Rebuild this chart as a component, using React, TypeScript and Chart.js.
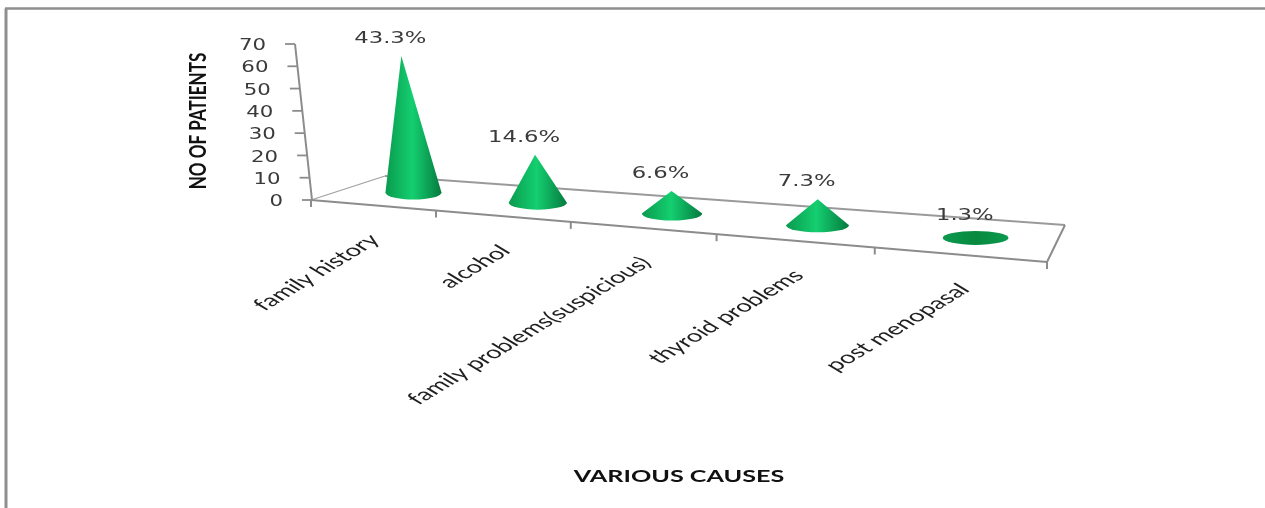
import { useEffect, useRef } from "react";
import { Chart, registerables } from "chart.js";

Chart.register(...registerables);

const causes = ["family history", "alcohol", "family problems(suspicious)", "thyroid problems", "post menopasal"];
const percentages = [43.3, 14.6, 6.6, 7.3, 1.3];
const totalPatients = 150;
const patients = percentages.map((p) => (p * totalPatients) / 100);
const yTitle = "NO OF PATIENTS";
const xTitle = "VARIOUS CAUSES";

// Corners of the receding floor, and the foreshortening of the category axis.
const FLOOR = { fl: [311, 200], fr: [1047, 262], br: [1065, 225], bl: [385, 176] };
const PERSPECTIVE = -0.1817;
const DEPTH = 0.55;

const foreshorten = (t: number) => (0.8183 * t) / (1 + PERSPECTIVE * t);

function floorPoint(t: number, v: number): [number, number] {
  const p = foreshorten(t);
  const { fl, fr, br, bl } = FLOOR;
  const fx = fl[0] + (fr[0] - fl[0]) * p;
  const fy = fl[1] + (fr[1] - fl[1]) * p;
  const bx = bl[0] + (br[0] - bl[0]) * p;
  const by = bl[1] + (br[1] - bl[1]) * p;
  return [fx + (bx - fx) * v, fy + (by - fy) * v];
}

function stretchedText(
  ctx: CanvasRenderingContext2D,
  text: string,
  x: number,
  y: number,
  sx: number,
  sy: number,
  angle: number,
  align: CanvasTextAlign,
  font: string,
  color: string,
  rotateFirst = false,
) {
  ctx.save();
  ctx.translate(x, y);
  if (rotateFirst) {
    ctx.rotate(angle);
    ctx.scale(sx, sy);
  } else {
    ctx.scale(sx, sy);
    ctx.rotate(angle);
  }
  ctx.font = font;
  ctx.fillStyle = color;
  ctx.textAlign = align;
  ctx.textBaseline = "middle";
  ctx.fillText(text, 0, 0);
  ctx.restore();
}

const AXIS_COLOR = "#8c8c8c";
const VALUE_FONT = '16px "DejaVu Sans"';
const VALUE_COLOR = "#3a3a3a";

function line(ctx: CanvasRenderingContext2D, a: number[], b: number[], width: number, color = AXIS_COLOR) {
  ctx.beginPath();
  ctx.moveTo(a[0], a[1]);
  ctx.lineTo(b[0], b[1]);
  ctx.lineWidth = width;
  ctx.strokeStyle = color;
  ctx.stroke();
}

const cone3d = {
  id: "cone3d",
  beforeDraw(chart: Chart) {
    const ctx = chart.ctx;
    const { x: xScale, y: yScale } = chart.scales;
    const { fl, fr, br, bl } = FLOOR;

    // Outer frame of the chart space
    ctx.save();
    ctx.fillStyle = "#ffffff";
    ctx.fillRect(0, 0, chart.width, chart.height);
    line(ctx, [6, 508], [6, 8.5], 3, "#8f8f8f");
    line(ctx, [5, 8.5], [1265, 8.5], 2.5, "#8f8f8f");

    // Floor outline
    line(ctx, fl, bl, 1.2, "#a0a0a0");
    line(ctx, bl, br, 1.8, "#9a9a9a");
    line(ctx, br, fr, 2);
    line(ctx, fl, fr, 2);

    // Value axis follows the lean of the left edge
    const lean = 17 / 156;
    const y0 = yScale.getPixelForValue(0);
    const top = yScale.getPixelForValue(70);
    line(ctx, [fl[0] + 1, y0], [fl[0] + 1 - (y0 - top) * lean, top], 2);
    for (const tick of yScale.ticks) {
      const py = yScale.getPixelForValue(tick.value);
      const px = fl[0] + 1 - (y0 - py) * lean;
      line(ctx, [px, py], [px - 10, py], 1.8);
      stretchedText(ctx, String(tick.value), px - 29, py + 2, 1.33, 1, 0, "right", VALUE_FONT, VALUE_COLOR);
    }

    // Category axis ticks and slanted labels
    const left = xScale.left;
    const span = xScale.width;
    for (let i = 0; i <= causes.length; i++) {
      const [tx, ty] = floorPoint(i / causes.length, 0);
      line(ctx, [tx, ty], [tx, ty + 7], 2);
    }
    causes.forEach((name, i) => {
      const t = (xScale.getPixelForValue(i) - left) / span;
      const [tx, ty] = floorPoint(t, 0);
      stretchedText(ctx, name, tx + 2 + 4 * t, ty + 32, 1.65, 1, -Math.PI / 4, "right", '16.8px Lato', "#1f1f1f");
    });

    stretchedText(ctx, yTitle, 199, 121, 0.74, 1, -Math.PI / 2, "center", 'bold 23px Lato', "#111111", true);
    stretchedText(ctx, xTitle, 679, 477, 1.48, 1, 0, "center", 'bold 17px Lato', "#111111");
    ctx.restore();
  },
  beforeDatasetDraw(chart: Chart) {
    const ctx = chart.ctx;
    const xScale = chart.scales.x;
    const meta = chart.getDatasetMeta(0);
    ctx.save();
    meta.data.forEach((bar: any, i: number) => {
      const t = (bar.x - xScale.left) / xScale.width;
      const grow = 1 / (1 + PERSPECTIVE * t);
      const [fx, fy] = floorPoint(t, DEPTH);
      const cx = fx + 3;
      const cy = fy + 1 + 2 * t;
      const rx = (bar.width / 2) * grow;
      const ry = 7;
      const h = (bar.base - bar.y) * 0.926 * grow;
      const tilt = -0.105 + 0.16 * t;
      const ax = cx + h * tilt;
      const ay = cy - h;

      if (h > ry) {
        // Cone mantle, ending in the front half of the round base
        const fill = ctx.createLinearGradient(cx - rx, 0, cx + rx, 0);
        fill.addColorStop(0, "#0a9a4e");
        fill.addColorStop(0.48, "#14cf70");
        fill.addColorStop(1, "#067a3f");
        ctx.beginPath();
        ctx.moveTo(ax, ay);
        ctx.lineTo(cx - rx, cy);
        ctx.ellipse(cx, cy, rx, ry, 0, Math.PI, 0, true);
        ctx.closePath();
        ctx.fillStyle = fill;
        ctx.fill();
      } else {
        // A very low cone shows as little more than its base
        const dim = ctx.createLinearGradient(cx - rx, 0, cx + rx, 0);
        dim.addColorStop(0, "#0a9a4e");
        dim.addColorStop(0.5, "#08893f");
        dim.addColorStop(1, "#0a9a4e");
        ctx.beginPath();
        ctx.ellipse(cx, cy, rx, ry, 0, 0, Math.PI * 2);
        ctx.fillStyle = dim;
        ctx.fill();
      }

      stretchedText(ctx, percentages[i].toFixed(1) + "%", ax - 11, ay - 17, 1.42, 1, 0, "center", VALUE_FONT, VALUE_COLOR);
    });
    ctx.restore();
    return false;
  },
};

export default function App() {
  const ref = useRef<HTMLCanvasElement>(null);
  useEffect(() => {
    if (!ref.current) return;
    const chart = new Chart(ref.current, {
      type: "bar",
      data: {
        labels: causes,
        datasets: [{ label: yTitle, data: patients, backgroundColor: "#0fae5c", barPercentage: 1, categoryPercentage: 0.374 }],
      },
      plugins: [cone3d],
      options: {
        animation: false,
        responsive: false,
        layout: { padding: { left: 311, right: 218, top: 44, bottom: 308 } },
        plugins: { legend: { display: false }, tooltip: { enabled: false } },
        scales: {
          x: { display: false, title: { display: false, text: xTitle } },
          y: { display: false, min: 0, max: 70, ticks: { stepSize: 10 }, title: { display: false, text: yTitle } },
        },
      },
    });
    return () => chart.destroy();
  }, []);
  return (
    <div style={{ position: "fixed", left: 0, top: 0, width: 1265, height: 508 }}>
      <canvas ref={ref} width={1265} height={508} style={{ display: "block" }} />
    </div>
  );
}
